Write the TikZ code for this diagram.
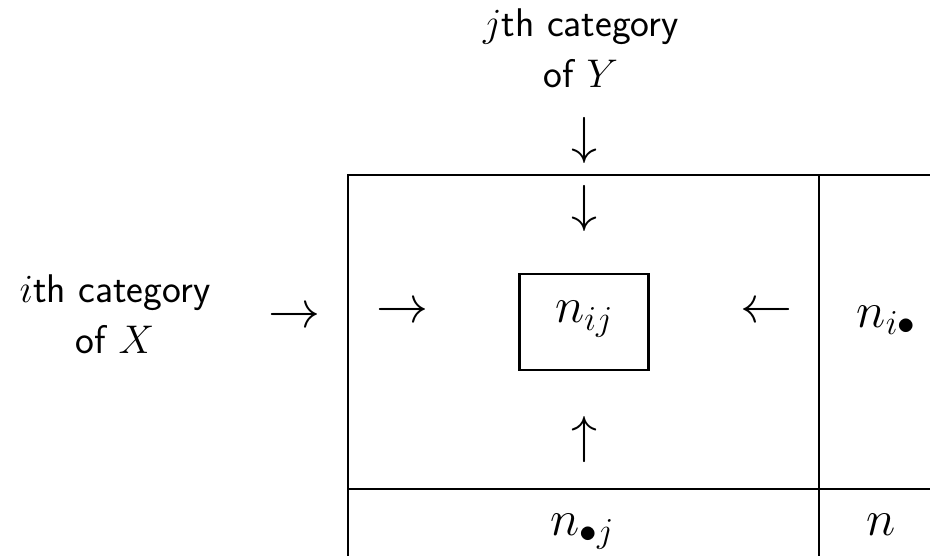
\RequirePackage{fix-cm}
\documentclass[tikz,border=0pt]{standalone}
\usepackage{fontspec}
\begin{document}
\begin{tikzpicture}[
    x=1pt, y=1pt,
    line width=2.4pt,
    catlabel/.style={font=\fontsize{40}{51}\selectfont\sffamily,
        align=center, anchor=base, inner sep=0pt},
    cell/.style={font=\fontsize{50}{60}\selectfont, anchor=base, inner sep=0pt},
    pointer/.style={font=\fontsize{52}{60}\selectfont, inner sep=0pt},
    focus/.style={draw, minimum width=129pt, minimum height=96pt,
        inner sep=0pt, text height=20pt, text depth=18pt,
        font=\fontsize{50}{60}\selectfont}
]
\useasboundingbox (0,0) rectangle (930,-556);

% Table frame (runs off the right and bottom edges)
\coordinate (topleft) at (348,-175);
\coordinate (topright) at (930,-175);
\coordinate (botleft) at (348,-556);
\draw (topright) -| (botleft);
\draw (819,-175) -- (819,-556);
\draw (348,-489) -- (930,-489);

% Cells
\node[focus] (nij) at (584,-322) {$n_{ij}$};
\node[cell] (nirow) at (886,-327) {$n_{i\bullet}$};
\node[cell] (ncolj) at (582,-535) {$n_{\bullet j}$};
\node[cell] (ntot) at (881,-535) {$n$};

% Pointers towards the cell
\node[pointer] (inY) at (584,-141) {$\downarrow$};
\node[pointer] (fromtop) at (584,-209) {$\downarrow$};
\node[pointer] (frombot) at (584,-439) {$\uparrow$};
\node[pointer] (fromleft) at (402,-313) {$\rightarrow$};
\node[pointer] (fromright) at (766,-313) {$\leftarrow$};
\node[pointer] (inX) at (294,-318) {$\rightarrow$};

% Category labels (anchored on the baseline of their last line)
\node[catlabel] (catY) at (581,-88) {$j$th category\\of $Y$};
\node[catlabel] (catX) at (115,-353) {$i$th category\\of $X$};

\end{tikzpicture}
\end{document}
